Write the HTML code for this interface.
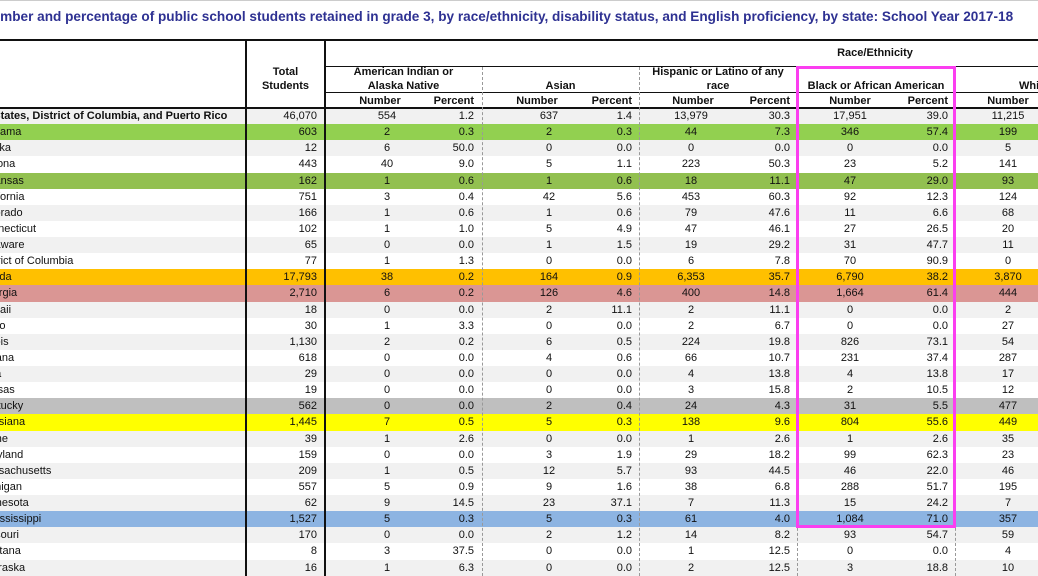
<!DOCTYPE html>
<html><head><meta charset="utf-8"><style>
*{margin:0;padding:0;box-sizing:border-box}
body{width:1038px;height:576px;overflow:hidden;background:#fff;position:relative;font-family:"Liberation Sans",Arial,sans-serif;font-size:11px;color:#111}
.title{position:absolute;left:-18px;top:9px;white-space:nowrap;font-weight:bold;font-size:13.6px;color:#2e3192}
.h{position:absolute;font-weight:bold;text-align:center;line-height:14px;white-space:nowrap}
.ln{position:absolute;background:#111}
.dl{position:absolute;width:0;border-left:1px dashed #999}
#rows{position:absolute;left:0;top:108px;width:1038px}
.r{position:relative;height:16.14px;background:#fff}
.g{background:#f1f1f1}
.r span{position:absolute;top:0;line-height:16px;white-space:nowrap}
.n{left:-22px}
.us .n{left:-44px;font-weight:bold}
.t{left:236px;width:81px;text-align:right}
.a1{left:337px;width:100px;text-align:center}
.a2{left:414px;width:60px;text-align:right}
.b1{left:499px;width:100px;text-align:center}
.b2{left:572px;width:60px;text-align:right}
.c1{left:641px;width:100px;text-align:center}
.c2{left:730px;width:60px;text-align:right}
.d1{left:800px;width:100px;text-align:center}
.d2{left:888px;width:60px;text-align:right}
.e1{left:958px;width:100px;text-align:center}
</style></head><body>
<div class="ln" style="left:0;top:0;width:1038px;height:1px;background:#ccc"></div>
<div class="title">Number and percentage of public school students retained in grade 3, by race/ethnicity, disability status, and English proficiency, by state: School Year 2017-18</div>

<div id="rows">
<div class="r g us"><span class="n">United States, District of Columbia, and Puerto Rico</span><span class="t">46,070</span><span class="a1">554</span><span class="a2">1.2</span><span class="b1">637</span><span class="b2">1.4</span><span class="c1">13,979</span><span class="c2">30.3</span><span class="d1">17,951</span><span class="d2">39.0</span><span class="e1">11,215</span></div>
<div class="r" style="background:#92d050"><span class="n">Alabama</span><span class="t">603</span><span class="a1">2</span><span class="a2">0.3</span><span class="b1">2</span><span class="b2">0.3</span><span class="c1">44</span><span class="c2">7.3</span><span class="d1">346</span><span class="d2">57.4</span><span class="e1">199</span></div>
<div class="r g"><span class="n">Alaska</span><span class="t">12</span><span class="a1">6</span><span class="a2">50.0</span><span class="b1">0</span><span class="b2">0.0</span><span class="c1">0</span><span class="c2">0.0</span><span class="d1">0</span><span class="d2">0.0</span><span class="e1">5</span></div>
<div class="r"><span class="n">Arizona</span><span class="t">443</span><span class="a1">40</span><span class="a2">9.0</span><span class="b1">5</span><span class="b2">1.1</span><span class="c1">223</span><span class="c2">50.3</span><span class="d1">23</span><span class="d2">5.2</span><span class="e1">141</span></div>
<div class="r" style="background:#92c050"><span class="n">Arkansas</span><span class="t">162</span><span class="a1">1</span><span class="a2">0.6</span><span class="b1">1</span><span class="b2">0.6</span><span class="c1">18</span><span class="c2">11.1</span><span class="d1">47</span><span class="d2">29.0</span><span class="e1">93</span></div>
<div class="r"><span class="n">California</span><span class="t">751</span><span class="a1">3</span><span class="a2">0.4</span><span class="b1">42</span><span class="b2">5.6</span><span class="c1">453</span><span class="c2">60.3</span><span class="d1">92</span><span class="d2">12.3</span><span class="e1">124</span></div>
<div class="r g"><span class="n">Colorado</span><span class="t">166</span><span class="a1">1</span><span class="a2">0.6</span><span class="b1">1</span><span class="b2">0.6</span><span class="c1">79</span><span class="c2">47.6</span><span class="d1">11</span><span class="d2">6.6</span><span class="e1">68</span></div>
<div class="r"><span class="n">Connecticut</span><span class="t">102</span><span class="a1">1</span><span class="a2">1.0</span><span class="b1">5</span><span class="b2">4.9</span><span class="c1">47</span><span class="c2">46.1</span><span class="d1">27</span><span class="d2">26.5</span><span class="e1">20</span></div>
<div class="r g"><span class="n">Delaware</span><span class="t">65</span><span class="a1">0</span><span class="a2">0.0</span><span class="b1">1</span><span class="b2">1.5</span><span class="c1">19</span><span class="c2">29.2</span><span class="d1">31</span><span class="d2">47.7</span><span class="e1">11</span></div>
<div class="r"><span class="n">District of Columbia</span><span class="t">77</span><span class="a1">1</span><span class="a2">1.3</span><span class="b1">0</span><span class="b2">0.0</span><span class="c1">6</span><span class="c2">7.8</span><span class="d1">70</span><span class="d2">90.9</span><span class="e1">0</span></div>
<div class="r" style="background:#ffc000"><span class="n">Florida</span><span class="t">17,793</span><span class="a1">38</span><span class="a2">0.2</span><span class="b1">164</span><span class="b2">0.9</span><span class="c1">6,353</span><span class="c2">35.7</span><span class="d1">6,790</span><span class="d2">38.2</span><span class="e1">3,870</span></div>
<div class="r" style="background:#da9694"><span class="n">Georgia</span><span class="t">2,710</span><span class="a1">6</span><span class="a2">0.2</span><span class="b1">126</span><span class="b2">4.6</span><span class="c1">400</span><span class="c2">14.8</span><span class="d1">1,664</span><span class="d2">61.4</span><span class="e1">444</span></div>
<div class="r g"><span class="n">Hawaii</span><span class="t">18</span><span class="a1">0</span><span class="a2">0.0</span><span class="b1">2</span><span class="b2">11.1</span><span class="c1">2</span><span class="c2">11.1</span><span class="d1">0</span><span class="d2">0.0</span><span class="e1">2</span></div>
<div class="r"><span class="n">Idaho</span><span class="t">30</span><span class="a1">1</span><span class="a2">3.3</span><span class="b1">0</span><span class="b2">0.0</span><span class="c1">2</span><span class="c2">6.7</span><span class="d1">0</span><span class="d2">0.0</span><span class="e1">27</span></div>
<div class="r g"><span class="n">Illinois</span><span class="t">1,130</span><span class="a1">2</span><span class="a2">0.2</span><span class="b1">6</span><span class="b2">0.5</span><span class="c1">224</span><span class="c2">19.8</span><span class="d1">826</span><span class="d2">73.1</span><span class="e1">54</span></div>
<div class="r"><span class="n">Indiana</span><span class="t">618</span><span class="a1">0</span><span class="a2">0.0</span><span class="b1">4</span><span class="b2">0.6</span><span class="c1">66</span><span class="c2">10.7</span><span class="d1">231</span><span class="d2">37.4</span><span class="e1">287</span></div>
<div class="r g"><span class="n">Iowa</span><span class="t">29</span><span class="a1">0</span><span class="a2">0.0</span><span class="b1">0</span><span class="b2">0.0</span><span class="c1">4</span><span class="c2">13.8</span><span class="d1">4</span><span class="d2">13.8</span><span class="e1">17</span></div>
<div class="r"><span class="n">Kansas</span><span class="t">19</span><span class="a1">0</span><span class="a2">0.0</span><span class="b1">0</span><span class="b2">0.0</span><span class="c1">3</span><span class="c2">15.8</span><span class="d1">2</span><span class="d2">10.5</span><span class="e1">12</span></div>
<div class="r" style="background:#bfbfbf"><span class="n">Kentucky</span><span class="t">562</span><span class="a1">0</span><span class="a2">0.0</span><span class="b1">2</span><span class="b2">0.4</span><span class="c1">24</span><span class="c2">4.3</span><span class="d1">31</span><span class="d2">5.5</span><span class="e1">477</span></div>
<div class="r" style="background:#ffff00"><span class="n">Louisiana</span><span class="t">1,445</span><span class="a1">7</span><span class="a2">0.5</span><span class="b1">5</span><span class="b2">0.3</span><span class="c1">138</span><span class="c2">9.6</span><span class="d1">804</span><span class="d2">55.6</span><span class="e1">449</span></div>
<div class="r g"><span class="n">Maine</span><span class="t">39</span><span class="a1">1</span><span class="a2">2.6</span><span class="b1">0</span><span class="b2">0.0</span><span class="c1">1</span><span class="c2">2.6</span><span class="d1">1</span><span class="d2">2.6</span><span class="e1">35</span></div>
<div class="r"><span class="n">Maryland</span><span class="t">159</span><span class="a1">0</span><span class="a2">0.0</span><span class="b1">3</span><span class="b2">1.9</span><span class="c1">29</span><span class="c2">18.2</span><span class="d1">99</span><span class="d2">62.3</span><span class="e1">23</span></div>
<div class="r g"><span class="n">Massachusetts</span><span class="t">209</span><span class="a1">1</span><span class="a2">0.5</span><span class="b1">12</span><span class="b2">5.7</span><span class="c1">93</span><span class="c2">44.5</span><span class="d1">46</span><span class="d2">22.0</span><span class="e1">46</span></div>
<div class="r"><span class="n">Michigan</span><span class="t">557</span><span class="a1">5</span><span class="a2">0.9</span><span class="b1">9</span><span class="b2">1.6</span><span class="c1">38</span><span class="c2">6.8</span><span class="d1">288</span><span class="d2">51.7</span><span class="e1">195</span></div>
<div class="r g"><span class="n">Minnesota</span><span class="t">62</span><span class="a1">9</span><span class="a2">14.5</span><span class="b1">23</span><span class="b2">37.1</span><span class="c1">7</span><span class="c2">11.3</span><span class="d1">15</span><span class="d2">24.2</span><span class="e1">7</span></div>
<div class="r" style="background:#8db4e2"><span class="n" style="left:-12px">Mississippi</span><span class="t">1,527</span><span class="a1">5</span><span class="a2">0.3</span><span class="b1">5</span><span class="b2">0.3</span><span class="c1">61</span><span class="c2">4.0</span><span class="d1">1,084</span><span class="d2">71.0</span><span class="e1">357</span></div>
<div class="r g"><span class="n">Missouri</span><span class="t">170</span><span class="a1">0</span><span class="a2">0.0</span><span class="b1">2</span><span class="b2">1.2</span><span class="c1">14</span><span class="c2">8.2</span><span class="d1">93</span><span class="d2">54.7</span><span class="e1">59</span></div>
<div class="r"><span class="n">Montana</span><span class="t">8</span><span class="a1">3</span><span class="a2">37.5</span><span class="b1">0</span><span class="b2">0.0</span><span class="c1">1</span><span class="c2">12.5</span><span class="d1">0</span><span class="d2">0.0</span><span class="e1">4</span></div>
<div class="r g"><span class="n">Nebraska</span><span class="t">16</span><span class="a1">1</span><span class="a2">6.3</span><span class="b1">0</span><span class="b2">0.0</span><span class="c1">2</span><span class="c2">12.5</span><span class="d1">3</span><span class="d2">18.8</span><span class="e1">10</span></div>
</div>

<div class="h" style="left:-30px;top:79px;text-align:left">State</div>
<div class="h" style="left:246px;width:79px;top:65px">Total<br>Students</div>
<div class="h" style="width:600px;top:46px;left:575px">Race/Ethnicity</div>
<div class="h" style="left:325px;width:157px;top:65px">American Indian or<br>Alaska Native</div>
<div class="h" style="left:482px;width:157px;top:79px">Asian</div>
<div class="h" style="left:639px;width:158px;top:65px">Hispanic or Latino of any<br>race</div>
<div class="h" style="left:797px;width:158px;top:79px">Black or African American</div>
<div class="h" style="left:955px;width:158px;top:79px">White</div>
<div class="h" style="left:330px;width:100px;top:94px">Number</div><div class="h" style="left:414px;width:60px;top:94px;text-align:right">Percent</div>
<div class="h" style="left:487px;width:100px;top:94px">Number</div><div class="h" style="left:572px;width:60px;top:94px;text-align:right">Percent</div>
<div class="h" style="left:643px;width:100px;top:94px">Number</div><div class="h" style="left:730px;width:60px;top:94px;text-align:right">Percent</div>
<div class="h" style="left:800px;width:100px;top:94px">Number</div><div class="h" style="left:888px;width:60px;top:94px;text-align:right">Percent</div>
<div class="h" style="left:958px;width:100px;top:94px">Number</div>

<div class="ln" style="left:0;top:39px;width:1038px;height:2px"></div>
<div class="ln" style="left:325px;top:66px;width:713px;height:1px"></div>
<div class="ln" style="left:325px;top:92px;width:713px;height:1px"></div>
<div class="ln" style="left:0;top:107px;width:1038px;height:2px"></div>
<div class="ln" style="left:245px;top:40px;width:2px;height:536px"></div>
<div class="ln" style="left:324px;top:40px;width:2px;height:536px"></div>
<div class="dl" style="left:482px;top:67px;height:509px"></div>
<div class="dl" style="left:639px;top:67px;height:509px"></div>
<div class="dl" style="left:797px;top:67px;height:509px"></div>
<div class="dl" style="left:955px;top:67px;height:509px"></div>

<div style="position:absolute;left:796px;top:66px;width:160px;height:462px;border:3px solid #fb3ef0"></div>
</body></html>
